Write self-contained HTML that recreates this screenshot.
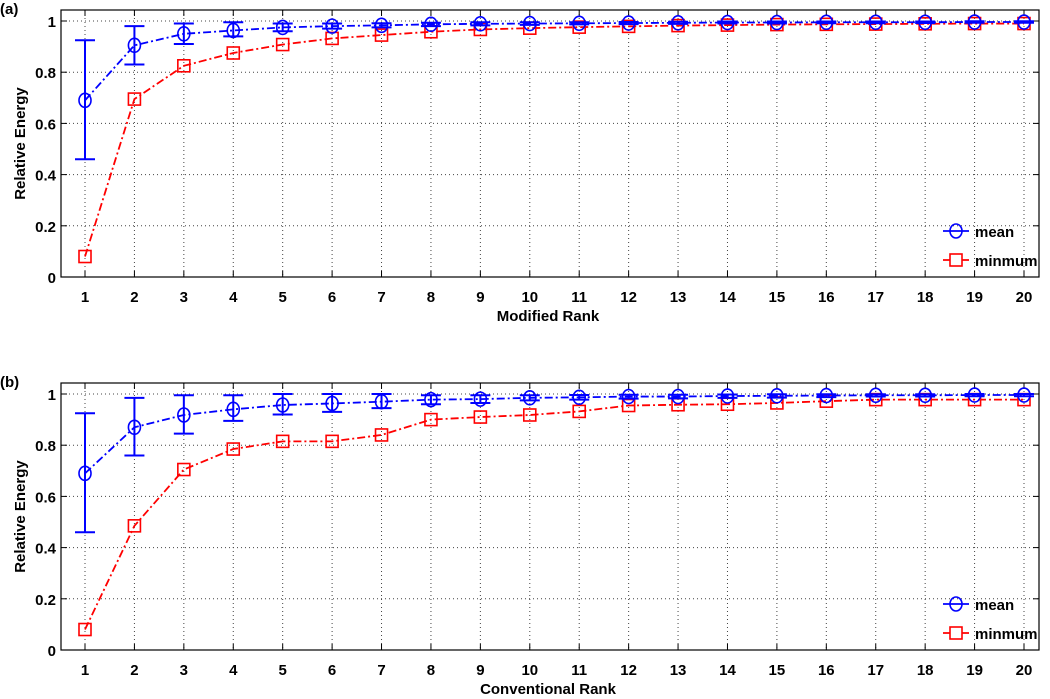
<!DOCTYPE html>
<html><head><meta charset="utf-8"><style>
body{margin:0;background:#fff}
svg text{font-family:"Liberation Sans",Arial,sans-serif;font-weight:bold;fill:#000}
</style></head><body>
<svg id="chart" width="1050" height="694" viewBox="0 0 1050 694" xmlns="http://www.w3.org/2000/svg"></svg>
<script>
const ranks=[1,2,3,4,5,6,7,8,9,10,11,12,13,14,15,16,17,18,19,20];
const yTicks=[0,0.2,0.4,0.6,0.8,1];
const yTickLabels=["0","0.2","0.4","0.6","0.8","1"];
const meanA=[0.69,0.905,0.95,0.963,0.975,0.98,0.983,0.987,0.989,0.99,0.991,0.992,0.993,0.994,0.994,0.995,0.995,0.995,0.996,0.996];
const errLoA=[0.46,0.83,0.91,0.94,0.96,0.97,0.975,0.98,0.983,0.985,0.987,0.988,0.989,0.99,0.99,0.991,0.991,0.992,0.993,0.993];
const errHiA=[0.925,0.98,0.99,0.995,0.99,0.99,0.991,0.993,0.995,0.995,0.995,0.996,0.997,0.998,0.998,0.998,0.998,0.998,0.999,0.999];
const minA=[0.08,0.695,0.825,0.875,0.908,0.932,0.945,0.958,0.967,0.972,0.976,0.979,0.982,0.984,0.986,0.987,0.988,0.989,0.99,0.99];
const meanB=[0.69,0.87,0.918,0.94,0.957,0.963,0.97,0.978,0.98,0.985,0.987,0.99,0.99,0.992,0.993,0.994,0.995,0.995,0.996,0.996];
const errLoB=[0.46,0.76,0.845,0.895,0.92,0.93,0.945,0.96,0.965,0.975,0.978,0.982,0.983,0.985,0.986,0.988,0.99,0.99,0.991,0.991];
const errHiB=[0.925,0.985,0.995,0.995,1.0,1.0,1.0,0.995,0.995,0.995,0.996,0.997,0.997,0.998,0.999,0.999,0.999,0.999,1.0,1.0];
const minB=[0.08,0.485,0.705,0.785,0.815,0.815,0.84,0.9,0.91,0.918,0.932,0.955,0.958,0.96,0.965,0.972,0.978,0.978,0.978,0.978];

const svg=document.getElementById('chart');
const NS='http://www.w3.org/2000/svg';
function mk(tag,attrs,parent){const e=document.createElementNS(NS,tag);for(const k in attrs)e.setAttribute(k,attrs[k]);(parent||svg).appendChild(e);return e;}

function panel(off,letter,xlabel,mean,lo,hi,mn,pname){
  const g=mk('g',{});
  
  
  const L=61,R=1039,T=10+off,B=277+off;
  const x=v=>85+(v-1)*(1024-85)/19;
  const y=v=>B-v*256;
  // grid
  ranks.forEach(r=>{const l=mk('line',{x1:x(r),x2:x(r),y1:T,y2:B,stroke:'#444','stroke-width':1,'stroke-dasharray':'1,3'},g);
    });
  yTicks.forEach(t=>{if(t===0)return;const l=mk('line',{x1:L,x2:R,y1:y(t),y2:y(t),stroke:'#444','stroke-width':1,'stroke-dasharray':'1,3'},g);
    });
  const box=mk('rect',{x:L,y:T,width:R-L,height:B-T,fill:'none',stroke:'#000','stroke-width':1.2},g);
  
  // ticks + labels
  ranks.forEach(r=>{
    mk('line',{x1:x(r),x2:x(r),y1:B,y2:B-6,stroke:'#000'},g);mk('line',{x1:x(r),x2:x(r),y1:T,y2:T+6,stroke:'#000'},g);
    const t=mk('text',{x:x(r),y:B+25,'text-anchor':'middle','font-size':15},g);t.textContent=r;
    });
  yTicks.forEach((v,i)=>{
    mk('line',{x1:L,x2:L+6,y1:y(v),y2:y(v),stroke:'#000'},g);mk('line',{x1:R,x2:R-6,y1:y(v),y2:y(v),stroke:'#000'},g);
    const t=mk('text',{x:L-5,y:y(v)+6,'text-anchor':'end','font-size':15},g);t.textContent=yTickLabels[i];
    });
  const yl=mk('text',{x:0,y:0,transform:`translate(25,${(T+B)/2}) rotate(-90)`,'text-anchor':'middle','font-size':15},g);yl.textContent='Relative Energy';
  
  const xl=mk('text',{x:548,y:B+44,'text-anchor':'middle','font-size':15},g);xl.textContent=xlabel;
  
  const pl=mk('text',{x:0,y:T+4,'font-size':15},g);pl.textContent=letter;
  
  // min series
  const pm=mk('polyline',{points:ranks.map((r,i)=>x(r)+','+y(mn[i])).join(' '),fill:'none',stroke:'#f00','stroke-width':1.8,'stroke-dasharray':'8,3,2,3'},g);
  
  ranks.forEach((r,i)=>{const s=mk('rect',{x:x(r)-6,y:y(mn[i])-6,width:12,height:12,fill:'none',stroke:'#f00','stroke-width':1.6},g);
    });
  // mean series
  const pa=mk('polyline',{points:ranks.map((r,i)=>x(r)+','+y(mean[i])).join(' '),fill:'none',stroke:'#00f','stroke-width':1.8,'stroke-dasharray':'8,3,2,3'},g);
  
  ranks.forEach((r,i)=>{
    const eb=mk('path',{d:`M${x(r)},${y(lo[i])}V${y(hi[i])}M${x(r)-10},${y(lo[i])}h20M${x(r)-10},${y(hi[i])}h20`,stroke:'#00f','stroke-width':2,fill:'none'},g);
    
    const c=mk('ellipse',{cx:x(r),cy:y(mean[i]),rx:6,ry:7,fill:'none',stroke:'#00f','stroke-width':1.6},g);
    });
  // legend
  const lg=mk('g',{},g);
  const ly1=231+off,ly2=260+off;
  mk('line',{x1:943,x2:969,y1:ly1,y2:ly1,stroke:'#00f','stroke-width':1.8},lg);
  mk('ellipse',{cx:956,cy:ly1,rx:6,ry:7,fill:'none',stroke:'#00f','stroke-width':1.6},lg);
  const t1=mk('text',{x:975,y:ly1+6,'font-size':15},lg);t1.textContent='mean';
  
  mk('line',{x1:943,x2:969,y1:ly2,y2:ly2,stroke:'#f00','stroke-width':1.8},lg);
  mk('rect',{x:950,y:ly2-6,width:12,height:12,fill:'#fff',stroke:'#f00','stroke-width':1.6},lg);
  const t2=mk('text',{x:975,y:ly2+6,'font-size':15},lg);t2.textContent='minmum';
  
}
panel(0,'(a)','Modified Rank',meanA,errLoA,errHiA,minA,'panel-a');
panel(373,'(b)','Conventional Rank',meanB,errLoB,errHiB,minB,'panel-b');
</script>
</body></html>
